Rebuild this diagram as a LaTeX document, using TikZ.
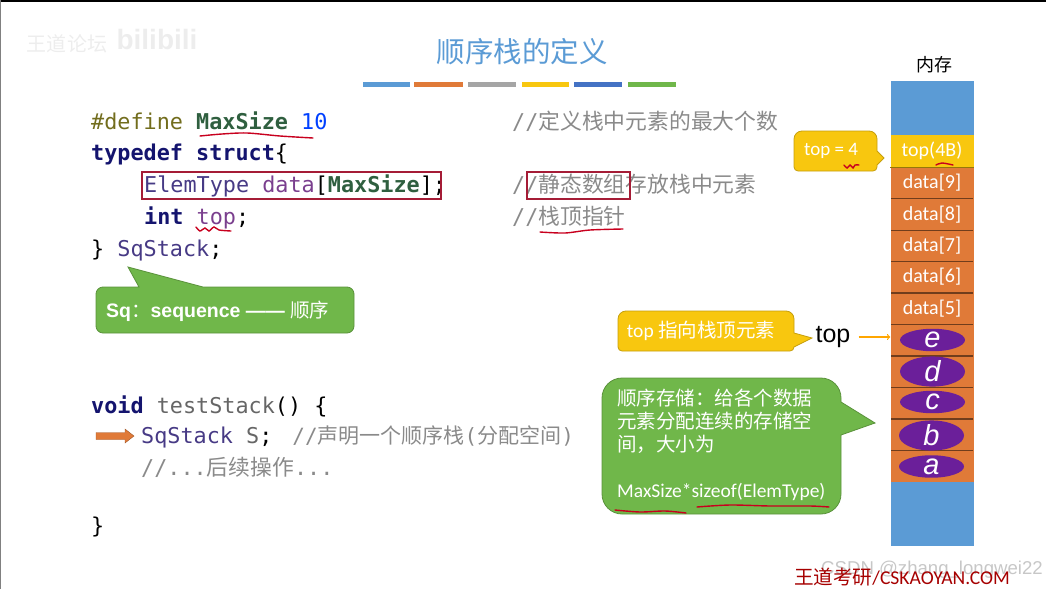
\documentclass[tikz,border=0pt]{standalone}
\usepackage{fontspec}
\setmainfont{Carlito}
\setmonofont{DejaVu Sans Mono}
\newfontfamily\cjk{Noto Sans CJK SC}
\newfontfamily\arialfont{Liberation Sans}
\usetikzlibrary{shapes.geometric}
\definecolor{oblue}{HTML}{5B9BD5}
\definecolor{oorange}{HTML}{E07A38}
\definecolor{ogray}{HTML}{A5A5A5}
\definecolor{oyellow}{HTML}{F8C70F}
\definecolor{odarkblue}{HTML}{4472C4}
\definecolor{ogreen}{HTML}{70B74A}
\definecolor{opurple}{HTML}{6B1F9A}
\definecolor{boxred}{HTML}{A51C36}
\definecolor{inkred}{HTML}{C8001E}
\definecolor{kw}{HTML}{14146E}
\definecolor{macroc}{HTML}{2F5F3F}
\definecolor{typec}{HTML}{473A85}
\definecolor{varc}{HTML}{7A3F8E}
\definecolor{cmt}{HTML}{8A8A8A}
\newcommand{\zh}[1]{{\cjk\mdseries #1}}
\newcommand{\kw}[1]{\textcolor{kw}{\textbf{#1}}}
\newcommand{\mac}[1]{\textcolor{macroc}{\textbf{#1}}}
\newcommand{\tp}[1]{\textcolor{typec}{#1}}
\begin{document}
\begin{tikzpicture}[x=1pt,y=-1pt,
    code/.style={anchor=base west,inner sep=0,font=\fontsize{21.8}{24}\ttfamily},
    note/.style={code,text=cmt},
    cell/.style={minimum width=83pt,minimum height=31.5pt,inner sep=0,text=white,
      font=\fontsize{20}{22}\selectfont,fill=oorange},
    blob/.style={ellipse,fill=opurple,minimum width=65pt,minimum height=22pt,inner sep=0,
      text=white,font=\arialfont\itshape\fontsize{29}{29}\selectfont},
    colorbar/.style={line width=5pt},
    redbox/.style={draw=boxred,line width=2.6pt},
    redline/.style={draw=inkred,line width=1.4pt,line cap=round},
    callout/.style={draw=#1!80!black,fill=#1,line width=0.8pt}]
  \useasboundingbox (0,0) rectangle (1046,589);
  \fill[black] (0,0) rectangle (1046,2);
  \fill[gray] (0,0) rectangle (1,589);
  % watermark
  \node[text=black!7,font=\cjk\fontsize{20}{20}\selectfont] (wmname) at (67,44) {王道论坛};
  \node[text=black!7,font=\arialfont\bfseries\fontsize{28}{29}\selectfont] (wmlogo) at (157,39) {bilibili};
  % title
  \node[text=oblue,font=\cjk\fontsize{28.5}{30}\selectfont] (title) at (522,52) {顺序栈的定义};
  \foreach \xa/\xb/\cl in {363/410/oblue,414/463/oorange,468/516/ogray,522/569/oyellow,574/622/odarkblue,628/676/ogreen}
    \draw[colorbar,\cl] (\xa,84.5) -- (\xb,84.5);
  % code
  \node[code] (line1) at (91,129) {\textcolor{olive!75!black}{\#define} \mac{MaxSize} \textcolor{blue!75!cyan}{10}};
  \node[code] (line2) at (91,160.5) {\kw{typedef struct}\{};
  \node[code] (line3) at (144,192.5) {\tp{ElemType} \textcolor{varc}{data}[\mac{MaxSize}];};
  \node[code] (line4) at (144,224.5) {\kw{int} \textcolor{varc}{top};};
  \node[code] (line5) at (91,256) {\} \tp{SqStack};};
  \node[note] (note1) at (512,129.5) {//\zh{定义栈中元素的最大个数}};
  \node[note] (note3) at (512,192.5) {//\zh{静态数组存放栈中元素}};
  \node[note] (note4) at (512,224.5) {//\zh{栈顶指针}};
  \node[code] (line6) at (91,413) {\kw{void} \textcolor{black!60}{testStack}() \{};
  \node[code] (line7) at (141,443.5) {\tp{SqStack} \textcolor{black!60}{S};\hspace{20pt}\textcolor{cmt}{\fontsize{21}{24}\selectfont //\zh{声明一个顺序栈}(\zh{分配空间})}};
  \node[note] (line8) at (141,475) {//...\zh{后续操作}...};
  \node[code] (line9) at (91,533) {\}};
  \draw[redbox] (142,172) rectangle (441,199);
  \draw[redbox] (527,172) rectangle (630,199);
  % arrow in front of the current line
  \fill[oorange,draw=oorange!70!black,line width=0.4pt] (96,432.5) -- (125,432.5) -- (125,429) -- (134,436)
    -- (125,443) -- (125,439.5) -- (96,439.5) -- cycle;
  % memory
  \node[font=\cjk\fontsize{18}{20}\selectfont] (memlabel) at (934,65) {内存};
  \node[cell,fill=oblue,minimum height=54pt] (memtop) at (932,108) {};
  \node[cell,fill=oyellow,minimum height=32pt] (topcell) at (932,151) {top(4B)};
  \foreach \i/\yy in {9/182.8,8/214.2,7/245.6,6/277,5/308.5}
    \node[cell] (data\i) at (932,\yy) {data[\i]};
  \foreach \nm/\yy in {e/340,d/371.5,c/403,b/434.5,a/466}
    \node[cell] (cell\nm) at (932,\yy) {};
  \node[cell,fill=oblue,minimum height=64pt] (membottom) at (932,514) {};
  \draw[oyellow!60!black] (topcell.south west) -- (topcell.south east);
  \foreach \nm in {data9,data8,data7,data6,data5,celle,celld,cellc,cellb}
    \draw[line width=1.2pt,oorange!50!black] ([xshift=1pt]\nm.south west) -- ([xshift=-1pt]\nm.south east);
  \foreach \nm/\xx/\yy in {e/932.5/340,d/932.5/371.5,c/932.5/402,b/931.5/435.5,a/931.5/466.5}
    \node[blob] (item\nm) at (\xx,\yy) {\nm};
  % callouts
  \draw[callout=oyellow,rounded corners=8pt] (830,131) -- (877,131) [sharp corners] -- (877,151) -- (884,158)
    -- (877,165) [rounded corners=4pt] -- (877,171) -- (794,171) [rounded corners=8pt] -- (794,131) -- cycle;
  \node[text=white,font=\fontsize{19}{20}\selectfont] (topvalue) at (831,151) {top = 4};
  \draw[callout=oyellow,rounded corners=8pt] (700,311) -- (794,311) [sharp corners] -- (794,333) -- (812,338)
    -- (794,347) [rounded corners=4pt] -- (794,351) -- (618,351) [rounded corners=8pt] -- (618,311) -- cycle;
  \node[text=white,font=\fontsize{19.5}{20}\selectfont] (topnote) at (701,331) {top \zh{指向栈顶元素}};
  \draw[callout=ogreen,rounded corners=20pt] (700,378) -- (841,378) [sharp corners] -- (841,402) -- (875,423)
    -- (841,435) [rounded corners=20pt] -- (841,514) -- (602,514) -- (602,378) -- cycle;
  \node[anchor=north west,inner sep=0,align=left,text=white,font=\fontsize{19.5}{23}\selectfont] (greennote) at (617,389)
    {\zh{顺序存储：给各个数据}\\ \zh{元素分配连续的存储空}\\ \zh{间，大小为}\\ \\ MaxSize*sizeof(ElemType)};
  \draw[callout=ogreen,rounded corners=7pt] (300,287) [sharp corners] -- (203,287) -- (128,267) -- (139,287)
    [rounded corners=7pt] -- (96,287) -- (96,333) -- (354,333) -- (354,287) -- cycle;
  \node[anchor=west,inner sep=0,text=white,font=\arialfont\bfseries\fontsize{19.5}{20}\selectfont] (sqnote) at (106,311)
    {Sq\zh{：}sequence —— \zh{顺序}};
  % stack pointer
  \node[inner sep=0,font=\arialfont\fontsize{25}{26}\selectfont] (toplabel) at (833,337) {top};
  \draw[->,orange!70!yellow,line width=1.2pt,shorten <=8pt] (toplabel.east) -- (celle.west |- toplabel.east);
  % hand marks
  \draw[redline] plot[smooth] coordinates {(200,136) (222,134) (247,133) (280,136) (313,138)};
  \draw[redline] plot[smooth] coordinates {(196,227) (200,231) (205,228) (209,231) (214,227) (219,230) (231,231)};
  \draw[redline] plot[smooth] coordinates {(540,232) (565,233) (590,230) (623,229)};
  \draw[redline] plot[smooth] coordinates {(844,165) (847,168) (850,165) (853,168) (855,165) (859,165)};
  \draw[redline] plot[smooth] coordinates {(936,165) (942,163) (953,165)};
  \draw[redline] plot[smooth] coordinates {(615,510) (640,512) (665,511) (686,513)};
  \draw[redline] plot[smooth] coordinates {(697,507) (730,505) (770,506) (810,506) (829,507)};
  % page marks
  \node[text=black!22,font=\arialfont\fontsize{18.6}{22}\selectfont] (csdn) at (932,570) {CSDN @zhang\_longwei22};
  \node[text=red!65!black,font=\fontsize{19.6}{20}\selectfont] (site) at (902,577) {\zh{王道考研}/CSKAOYAN.COM};
\end{tikzpicture}
\end{document}
